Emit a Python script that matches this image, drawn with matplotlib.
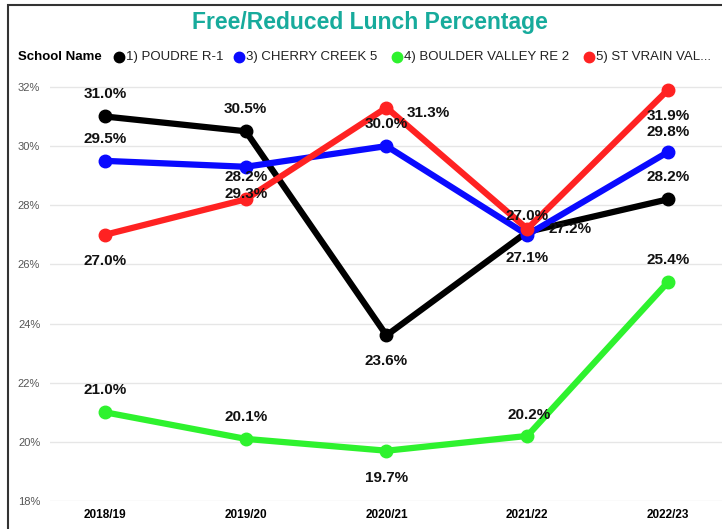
import matplotlib

matplotlib.use("Agg")

import matplotlib.pyplot as plt
from matplotlib.patches import Rectangle

plt.rcParams["font.family"] = ["Liberation Sans", "DejaVu Sans"]

years = ["2018/19", "2019/20", "2020/21", "2021/22", "2022/23"]
schools = ["1) POUDRE R-1", "3) CHERRY CREEK 5", "4) BOULDER VALLEY RE 2", "5) ST VRAIN VAL..."]
poudre = [31.0, 30.5, 23.6, 27.1, 28.2]
cherry_creek = [29.5, 29.3, 30.0, 27.0, 29.8]
boulder_valley = [21.0, 20.1, 19.7, 20.2, 25.4]
st_vrain = [27.0, 28.2, 31.3, 27.2, 31.9]
y_ticks = [18, 20, 22, 24, 26, 28, 30, 32]

colors = ["#000000", "#0a0aff", "#2ef22e", "#ff2222"]

# label offsets in pixels (dx, dy), per series per year
label_offsets = [
    [(0, 22), (0, 22), (0, -26), (0, -26), (0, 22)],
    [(0, 22), (0, -27), (0, 22), (0, 19), (0, 20)],
    [(0, 22), (0, 22), (0, -27), (2, 21), (0, 22)],
    [(0, -26), (0, 22), (42, -5), (43, 0), (0, -26)],
]

fig = plt.figure(figsize=(7.22, 5.29), dpi=100)
ax = fig.add_axes([50 / 722, 28 / 529, 672 / 722, 420 / 529])

series = [poudre, cherry_creek, boulder_valley, st_vrain]
x = list(range(len(years)))
for values, color in zip(series, colors):
    ax.plot(x, values, color=color, linewidth=4.5, marker="o", markersize=9,
            solid_joinstyle="round", solid_capstyle="round", clip_on=False, zorder=3)
for values, offsets in zip(series, label_offsets):
    for xi, v, (dx, dy) in zip(x, values, offsets):
        ax.annotate(f"{v:.1f}%", (xi, v), xytext=(dx, dy), textcoords="offset pixels",
                    ha="center", va="center", fontsize=11, fontweight="bold",
                    color="#111111", zorder=5)

ax.set_xlim(-55 / 140.75, 4 + 54 / 140.75)
ax.set_ylim(18, 32.2)
ax.set_yticks(y_ticks)
ax.set_yticklabels([f"{t}%" for t in y_ticks], color="#555555", fontsize=8)
ax.set_xticks(x)
ax.set_xticklabels(years, fontsize=8.5, fontweight="bold")
ax.tick_params(axis="both", length=0)
ax.tick_params(axis="y", pad=7)
ax.tick_params(axis="x", pad=6)
ax.grid(axis="y", color="#e6e6e6", linewidth=1)
ax.set_axisbelow(True)
for spine in ax.spines.values():
    spine.set_visible(False)

fig.text(370 / 722, 1 - 22 / 529, "Free/Reduced Lunch Percentage", ha="center", va="center",
         fontsize=16.5, fontweight="bold", color="#17ab9c")

legend_y = 1 - 57 / 529
fig.text(18 / 722, legend_y, "School Name", ha="left", va="center", fontsize=9.5, fontweight="bold")
marker_x = [119, 239, 397, 589]
for name, color, mx in zip(schools, colors, marker_x):
    fig.lines.append(plt.Line2D([mx / 722], [legend_y], marker="o", markersize=7.5, color=color,
                                transform=fig.transFigure, figure=fig))
    fig.text((mx + 7) / 722, legend_y, name, ha="left", va="center", fontsize=9.5, color="#222222")

fig.patches.append(Rectangle((8 / 722, -0.1), 1.2, 1 - 5 / 529 + 0.1, transform=fig.transFigure,
                             fill=False, edgecolor="#333333", linewidth=1.5, figure=fig))

fig.savefig("out.png", dpi=100)
